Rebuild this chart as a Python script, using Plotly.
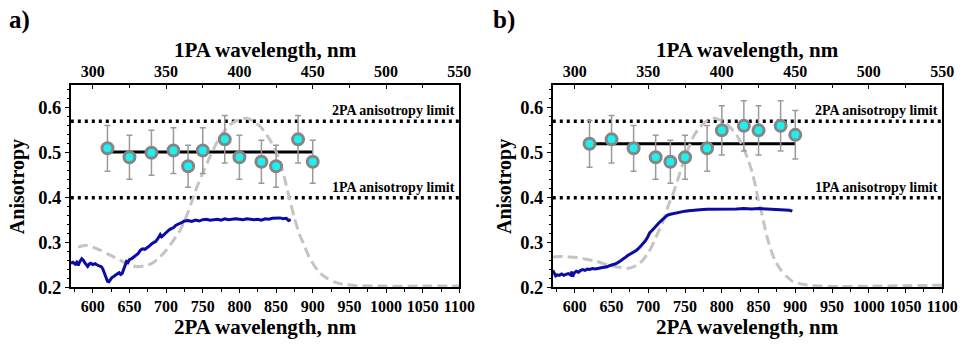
import plotly.graph_objects as go

# ---------------- data ----------------
pts_x = [620, 650, 680, 710, 730, 750, 780, 800, 830, 850, 880, 900]
a_pts_y = [0.51, 0.49, 0.50, 0.505, 0.47, 0.505, 0.53, 0.49, 0.48, 0.47, 0.53, 0.48]
a_pts_err = [0.051, 0.049, 0.050, 0.051, 0.047, 0.051, 0.053, 0.049, 0.048, 0.047, 0.053, 0.048]
b_pts_y = [0.52, 0.53, 0.51, 0.49, 0.48, 0.49, 0.51, 0.55, 0.56, 0.55, 0.56, 0.54]
b_pts_err = [0.052, 0.053, 0.051, 0.049, 0.048, 0.049, 0.051, 0.055, 0.056, 0.055, 0.056, 0.054]
a_mean = 0.502
b_mean = 0.52
mean_x = [620, 900]
limit_2pa = 0.57
limit_1pa = 0.40
limit_x = [570, 1100]

a_blue_x = [570, 573, 576, 578, 580, 582, 585, 587, 589, 591, 593, 595, 597, 600, 603, 606, 609, 612, 614,
            616, 618, 620, 622, 624, 626, 628, 630, 633, 636, 638, 640, 642, 644, 646, 648, 650, 653, 656,
            659, 662, 665, 668, 671, 674, 677, 680, 683, 686, 688, 690, 692, 694, 696, 698, 701, 704, 707,
            710, 713, 716, 719, 722, 725, 730, 735, 740, 745, 750, 755, 760, 765, 770, 775, 780, 785, 790,
            795, 800, 805, 810, 815, 820, 825, 830, 835, 840, 845, 850, 855, 860, 864, 867, 870]
a_blue_y = [0.254, 0.256, 0.252, 0.256, 0.249, 0.257, 0.264, 0.261, 0.255, 0.250, 0.247, 0.252, 0.254, 0.251,
            0.253, 0.250, 0.248, 0.246, 0.240, 0.232, 0.222, 0.214, 0.213, 0.218, 0.222, 0.224, 0.227, 0.230,
            0.233, 0.229, 0.231, 0.240, 0.253, 0.258, 0.256, 0.262, 0.264, 0.268, 0.271, 0.276, 0.283, 0.286,
            0.285, 0.288, 0.292, 0.297, 0.300, 0.303, 0.307, 0.313, 0.318, 0.313, 0.316, 0.321, 0.324, 0.328,
            0.331, 0.333, 0.338, 0.341, 0.343, 0.345, 0.348, 0.349, 0.347, 0.350, 0.348, 0.351, 0.352, 0.350,
            0.351, 0.352, 0.350, 0.353, 0.351, 0.352, 0.353, 0.352, 0.351, 0.353, 0.352, 0.351, 0.352, 0.350,
            0.353, 0.352, 0.354, 0.354, 0.355, 0.353, 0.354, 0.349, 0.351]

b_blue_x = [570, 572, 574, 576, 579, 582, 585, 588, 591, 594, 596, 597, 599, 602, 605, 608, 611, 614, 617, 620,
            624, 628, 632, 636, 640, 644, 648, 652, 656, 660, 664, 668, 672, 676, 680, 684, 688, 692, 696, 699,
            702, 705, 708, 711, 714, 717, 720, 723, 726, 730, 735, 740, 745, 750, 755, 760, 770, 780, 790, 800,
            810, 820, 830, 840, 850, 860, 870, 880, 888, 892, 896]
b_blue_y = [0.238, 0.232, 0.226, 0.228, 0.227, 0.230, 0.227, 0.229, 0.231, 0.228, 0.235, 0.224, 0.232, 0.236,
            0.234, 0.238, 0.240, 0.238, 0.241, 0.240, 0.242, 0.241, 0.243, 0.244, 0.245, 0.246, 0.249, 0.251,
            0.253, 0.257, 0.261, 0.266, 0.271, 0.275, 0.279, 0.283, 0.289, 0.296, 0.304, 0.312, 0.322, 0.327,
            0.333, 0.338, 0.343, 0.348, 0.353, 0.358, 0.361, 0.363, 0.365, 0.367, 0.368, 0.370, 0.371, 0.372,
            0.373, 0.374, 0.374, 0.375, 0.374, 0.375, 0.376, 0.375, 0.376, 0.375, 0.375, 0.374, 0.373, 0.372,
            0.370]

a_gray_x = [580, 590, 600, 610, 620, 630, 643, 655, 662, 670, 680, 690, 700, 710, 720, 730, 740, 750, 760, 770,
            780, 790, 800, 810, 820, 830, 840, 848, 855, 862, 868, 875, 882, 889, 895, 902, 910, 920, 930, 942,
            960, 1000, 1050, 1100]
a_gray_y = [0.290, 0.294, 0.290, 0.283, 0.275, 0.267, 0.256, 0.248, 0.246, 0.248, 0.253, 0.265, 0.283, 0.305,
            0.330, 0.368, 0.415, 0.455, 0.492, 0.525, 0.550, 0.566, 0.574, 0.577, 0.570, 0.556, 0.533, 0.510,
            0.482, 0.440, 0.400, 0.355, 0.318, 0.292, 0.268, 0.249, 0.232, 0.220, 0.212, 0.207, 0.204, 0.203,
            0.203, 0.203]

b_gray_x = [570, 580, 590, 602, 615, 630, 645, 660, 674, 685, 692, 700, 705, 712, 719, 728, 734, 741, 748, 755,
            762, 770, 779, 788, 798, 810, 820, 828, 835, 841, 846, 850, 853, 857, 862, 868, 874, 880, 888, 897,
            910, 928, 960, 1000, 1050, 1100]
b_gray_y = [0.268, 0.269, 0.268, 0.267, 0.263, 0.258, 0.250, 0.245, 0.243, 0.250, 0.260, 0.278, 0.292, 0.318,
            0.343, 0.386, 0.410, 0.445, 0.480, 0.512, 0.538, 0.557, 0.570, 0.577, 0.573, 0.559, 0.540, 0.516,
            0.488, 0.458, 0.425, 0.393, 0.375, 0.345, 0.310, 0.278, 0.255, 0.240, 0.225, 0.213, 0.207, 0.204,
            0.202, 0.203, 0.204, 0.205]

bottom_ticks = [600, 650, 700, 750, 800, 850, 900, 950, 1000, 1050, 1100]
top_ticks = [300, 350, 400, 450, 500, 550]
y_ticks = [0.2, 0.3, 0.4, 0.5, 0.6]
panel_labels = ["a)", "b)"]
limit_labels = ["2PA anisotropy limit", "1PA anisotropy limit"]

# ---------------- style ----------------
FONT = "Liberation Serif"
BLUE = "#0B0BA5"
GRAY = "#C4C4C4"
CYAN = "#1EF0F0"
MARKER_EDGE = "#858585"
ERR = "#9A9A9A"

fig = go.Figure()

panels = [
    dict(xa="x", ya="y", xt="x3", blue=(a_blue_x, a_blue_y), gray=(a_gray_x, a_gray_y),
         pts=(a_pts_y, a_pts_err), mean=a_mean),
    dict(xa="x2", ya="y2", xt="x4", blue=(b_blue_x, b_blue_y), gray=(b_gray_x, b_gray_y),
         pts=(b_pts_y, b_pts_err), mean=b_mean),
]

for p in panels:
    for lim in (limit_2pa, limit_1pa):
        fig.add_trace(go.Scatter(x=limit_x, y=[lim, lim], mode="lines", xaxis=p["xa"], yaxis=p["ya"],
                                 line=dict(color="black", width=3.5, dash="3px,4px"),
                                 showlegend=False, hoverinfo="skip"))
    fig.add_trace(go.Scatter(x=mean_x, y=[p["mean"], p["mean"]], mode="lines", xaxis=p["xa"], yaxis=p["ya"],
                             line=dict(color="black", width=3), showlegend=False))
    fig.add_trace(go.Scatter(x=p["gray"][0], y=p["gray"][1], mode="lines", xaxis=p["xa"], yaxis=p["ya"],
                             line=dict(color=GRAY, width=3, dash="10px,5px", shape="spline", smoothing=0.6),
                             showlegend=False))
    fig.add_trace(go.Scatter(x=p["blue"][0], y=p["blue"][1], mode="lines", xaxis=p["xa"], yaxis=p["ya"],
                             line=dict(color=BLUE, width=3), showlegend=False))
    fig.add_trace(go.Scatter(x=pts_x, y=p["pts"][0], mode="markers", xaxis=p["xa"], yaxis=p["ya"],
                             error_y=dict(type="data", array=p["pts"][1], visible=True, color=ERR,
                                          thickness=1.5, width=3),
                             marker=dict(size=11, color=CYAN, line=dict(color=MARKER_EDGE, width=3)),
                             showlegend=False))
    # dummy trace so that the top (1PA) axis is drawn
    fig.add_trace(go.Scatter(x=[300], y=[0.3], mode="markers", xaxis=p["xt"], yaxis=p["ya"],
                             marker=dict(opacity=0), showlegend=False, hoverinfo="skip"))

xtickfont = dict(family=FONT, size=16, color="black", weight=700)
ytickfont = dict(family=FONT, size=18.5, color="black", weight=700)
ydom = [1 - 296 / 347, 1 - 88 / 347]
doms = [[72 / 975, 467 / 975], [562 / 975, 958 / 975]]

layout = dict(
    width=975, height=347, margin=dict(l=0, r=0, t=0, b=0),
    paper_bgcolor="white", plot_bgcolor="white", showlegend=False,
)
for i, (xa, ya, xt) in enumerate([("xaxis", "yaxis", "xaxis3"), ("xaxis2", "yaxis2", "xaxis4")]):
    yname = "y" if i == 0 else "y2"
    xname = "x" if i == 0 else "x2"
    layout[xa] = dict(domain=doms[i], anchor=yname, range=[570, 1100], tickvals=bottom_ticks,
                      ticks="outside", ticklen=4, tickwidth=1.2, tickcolor="black",
                      minor=dict(dtick=25, tick0=600, ticks="outside", ticklen=2.5, tickcolor="black"),
                      showline=True, linecolor="black", linewidth=1.5, showgrid=False, zeroline=False,
                      tickfont=xtickfont)
    layout[xt] = dict(overlaying=xname, anchor=yname, side="top", range=[285, 550], tickvals=top_ticks,
                      ticks="inside", ticklen=4, tickwidth=1.2, tickcolor="black",
                      minor=dict(dtick=25, tick0=300, ticks="inside", ticklen=2.5, tickcolor="black"),
                      showline=True, linecolor="black", linewidth=1.5, showgrid=False, zeroline=False,
                      tickfont=xtickfont)
    layout[ya] = dict(domain=ydom, anchor=xname, range=[0.2, 0.65], tickvals=y_ticks, tickformat=".1f",
                      ticks="outside", ticklen=4, tickwidth=1.2, tickcolor="black",
                      minor=dict(dtick=0.02, tick0=0.2, ticks="outside", ticklen=2.5, tickcolor="black"),
                      showline=True, linecolor="black", linewidth=1.5, mirror=True,
                      showgrid=False, zeroline=False, tickfont=ytickfont)

ann = []
titlefont = dict(family=FONT, size=21, color="black", weight=700)
for i in range(2):
    x0, x1 = doms[i]
    xc = (x0 + x1) / 2
    ann.append(dict(text=panel_labels[i], xref="paper", yref="paper", x=(7 if i == 0 else 499) / 975,
                    y=1 - 21 / 347, xanchor="left", yanchor="middle", showarrow=False,
                    font=dict(family=FONT, size=25, color="black", weight=700)))
    ann.append(dict(text="1PA wavelength, nm", xref="paper", yref="paper", x=xc, y=1 - 51 / 347,
                    xanchor="center", yanchor="middle", showarrow=False, font=titlefont))
    ann.append(dict(text="2PA wavelength, nm", xref="paper", yref="paper", x=xc, y=1 - 337 / 347,
                    xanchor="center", yanchor="middle", showarrow=False, font=titlefont))
    ann.append(dict(text="Anisotropy", xref="paper", yref="paper", x=(18 if i == 0 else 513) / 975,
                    y=1 - 192 / 347, xanchor="center", yanchor="middle", textangle=-90, showarrow=False,
                    font=dict(family=FONT, size=20, color="black", weight=700)))
    xr = "x" if i == 0 else "x2"
    yr = "y" if i == 0 else "y2"
    for txt, lim in zip(limit_labels, (limit_2pa, limit_1pa)):
        ann.append(dict(text=txt, xref=xr, yref=yr, x=1097, y=lim, xanchor="right", yanchor="bottom",
                        yshift=1, showarrow=False,
                        font=dict(family=FONT, size=14, color="black", weight=700)))
layout["annotations"] = ann

fig.update_layout(**layout)
fig.write_html("out.html")
